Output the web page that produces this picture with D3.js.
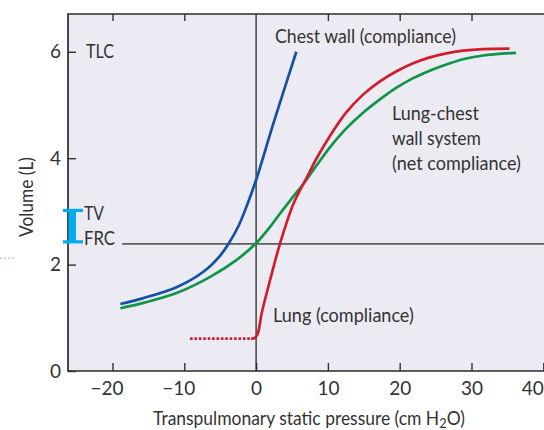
<!DOCTYPE html>
<html>
<head>
<meta charset="utf-8">
<script src="https://cdn.jsdelivr.net/npm/d3@7"></script>
<style>
  html, body { margin: 0; padding: 0; background: #fff; }
  svg { display: block; }
</style>
</head>
<body>
<svg id="chart" width="544" height="430"></svg>
<script>
// Static pressure–volume curves of the lung, chest wall and combined system
const pressureTicks = [-20, -10, 0, 10, 20, 30, 40];
const volumeTicks = [0, 2, 4, 6];

// Chest wall (compliance)
const chestWallPressure = [-18.9, -15.7, -11.0, -7.3, -5.0, -3.8, -2.4, -1.2, 0, 2.4, 5.6];
const chestWallVolume   = [1.26, 1.37, 1.58, 1.87, 2.17, 2.40, 2.74, 3.14, 3.59, 4.65, 6.00];

// Lung (compliance)
const lungPressure = [-0.7, -0.2, 0.2, 0.8, 1.95, 3.34, 5.19, 7.0, 8.36, 10.2, 12.5, 14.86, 17.2, 19.5, 21.8, 24.1, 26.5, 28.8, 31.6, 35.3];
const lungVolume   = [0.61, 0.62, 0.69, 1.10, 1.71, 2.40, 3.14, 3.62, 3.98, 4.40, 4.85, 5.19, 5.44, 5.63, 5.78, 5.89, 5.97, 6.02, 6.05, 6.06];
// Lung below zero transpulmonary pressure (dotted)
const lungCollapsedPressure = [-9.2, -0.7];
const lungCollapsedVolume   = [0.61, 0.61];

// Lung–chest wall system (net compliance)
const systemPressure = [-18.9, -15.7, -11.0, -6.4, -2.7, 0, 1.95, 3.34, 5.0, 6.6, 8.3, 10.2, 12.5, 14.86, 17.2, 19.5, 21.8, 24.1, 26.5, 28.8, 31.6, 36.2];
const systemVolume   = [1.18, 1.28, 1.47, 1.77, 2.09, 2.40, 2.71, 2.96, 3.25, 3.52, 3.84, 4.19, 4.55, 4.85, 5.10, 5.32, 5.50, 5.64, 5.76, 5.86, 5.93, 5.98];

// Reference volumes
const frcVolume = 2.39;
const tvTopVolume = 3.02;
const tlcVolume = 6;

const svg = d3.select('#chart');
const plotLeft = 68, plotRight = 544, plotTop = 14, plotBottom = 371;
const x = d3.scaleLinear().domain([-26.2, 40.1]).range([plotLeft, plotRight]);
const y = d3.scaleLinear().domain([0, 6.71]).range([plotBottom, plotTop]);

const ink = '#333333';
const font = 'Lato, "Open Sans", sans-serif';
const zip = (xs, ys) => xs.map((v, i) => [v, ys[i]]);

// plot panel
svg.append('rect')
  .attr('x', plotLeft).attr('y', plotTop)
  .attr('width', plotRight - plotLeft + 4).attr('height', plotBottom - plotTop)
  .attr('fill', '#ecebf4');

// text helper: draws a label and squeezes it to the given width
function label(x0, y0, str, width, opts = {}) {
  const g = svg.append('g').attr('transform', `translate(${x0},${y0})${opts.rotate ? ' rotate(' + opts.rotate + ')' : ''}`);
  const t = g.append('text')
    .attr('font-family', font)
    .attr('font-size', opts.size || 19)
    .attr('fill', ink)
    .attr('text-anchor', opts.anchor || 'start')
    .text(str);
  if (width) {
    const w = t.node().getComputedTextLength();
    t.attr('transform', `scale(${width / w},1)`);
  }
  return t;
}

// bottom axis
const xAxis = svg.append('g')
  .attr('transform', `translate(0,${plotBottom})`)
  .call(d3.axisBottom(x).tickValues(pressureTicks).tickSize(-8).tickPadding(11).tickFormat(d3.format('d')));
xAxis.select('.domain').remove();
xAxis.selectAll('line').attr('stroke', ink).attr('stroke-width', 1.4);
xAxis.selectAll('text')
  .attr('font-family', font).attr('font-size', 19).attr('fill', ink)
  .attr('dx', d => d < 0 ? -6 : (d === 40 ? -11 : 0));

// top ticks
const xTop = svg.append('g')
  .attr('transform', `translate(0,${plotTop})`)
  .call(d3.axisTop(x).tickValues(pressureTicks.filter(d => d !== 0 && d !== 40)).tickSize(-7).tickFormat(''));
xTop.select('.domain').remove();
xTop.selectAll('line').attr('stroke', ink).attr('stroke-width', 1.4);

// left axis
const yAxis = svg.append('g')
  .attr('transform', `translate(${plotLeft},0)`)
  .call(d3.axisLeft(y).tickValues(volumeTicks).tickSize(-8).tickPadding(7).tickFormat(d3.format('d')));
yAxis.select('.domain').remove();
yAxis.selectAll('line').attr('stroke', ink).attr('stroke-width', 1.4);
yAxis.selectAll('text').attr('font-family', font).attr('font-size', 19).attr('fill', ink);

// frame
svg.append('path')
  .attr('d', `M${plotRight + 2},${plotTop}H${plotLeft}V${plotBottom}H${plotRight + 2}`)
  .attr('fill', 'none').attr('stroke', '#2a2a2a').attr('stroke-width', 1.7);

// zero pressure line
svg.append('line')
  .attr('x1', x(0)).attr('x2', x(0)).attr('y1', plotTop).attr('y2', plotBottom)
  .attr('stroke', '#2a2a2a').attr('stroke-width', 1.3);

// reference volume labels
label(86, 58, 'TLC', 28);
label(84, 219.5, 'TV', 20);
label(84, 245, 'FRC', 31);

// FRC line
svg.append('line')
  .attr('x1', 122).attr('x2', plotRight)
  .attr('y1', y(frcVolume)).attr('y2', y(frcVolume))
  .attr('stroke', '#5e5e5e').attr('stroke-width', 1.8);

// tidal volume bracket
const bracket = svg.append('g').attr('fill', '#00aeef');
const bTop = y(tvTopVolume), bBot = y(frcVolume) - 2;
bracket.append('rect').attr('x', plotLeft - 5).attr('y', bTop - 1.5).attr('width', 20).attr('height', 3.2);
bracket.append('rect').attr('x', plotLeft - 5).attr('y', bBot - 1.6).attr('width', 20).attr('height', 3.2);
bracket.append('rect').attr('x', plotLeft + 0.5).attr('y', bTop).attr('width', 7.5).attr('height', bBot - bTop);

// small dotted mark outside the panel
svg.append('line')
  .attr('x1', 0).attr('x2', 14).attr('y1', y(2.12)).attr('y2', y(2.12))
  .attr('stroke', '#a9c2d6').attr('stroke-width', 1.4).attr('stroke-dasharray', '1.5,2.6');

// curves
const line = d3.line().x(d => x(d[0])).y(d => y(d[1])).curve(d3.curveCatmullRom.alpha(0.5));
const curveStyle = sel => sel.attr('fill', 'none').attr('stroke-width', 2.7).attr('stroke-linecap', 'butt');

svg.append('path').datum(zip(lungCollapsedPressure, lungCollapsedVolume))
  .attr('d', line).call(curveStyle).attr('stroke', '#cf1f2f').attr('stroke-dasharray', '2.6,1.8');
svg.append('path').datum(zip(systemPressure, systemVolume))
  .attr('d', line).call(curveStyle).attr('stroke', '#0f9448');
svg.append('path').datum(zip(lungPressure, lungVolume))
  .attr('d', line).call(curveStyle).attr('stroke', '#cf1f2f');
svg.append('path').datum(zip(chestWallPressure, chestWallVolume))
  .attr('d', line).call(curveStyle).attr('stroke', '#1450a3');

// curve labels
label(275, 43, 'Chest wall (compliance)', 181);
label(392, 120, 'Lung-chest', 87);
label(392, 145, 'wall system', 89);
label(392, 170, '(net compliance)', 129);
label(273, 322, 'Lung (compliance)', 141);

// axis titles
label(33, 197, 'Volume (L)', 80, { anchor: 'middle', rotate: -90 });

const xt = svg.append('g').attr('transform', 'translate(309,425)');
const xTitle = xt.append('text')
  .attr('font-family', font).attr('font-size', 19).attr('fill', ink).attr('text-anchor', 'middle');
xTitle.append('tspan').text('Transpulmonary static pressure (cm H');
xTitle.append('tspan').attr('font-size', 14).attr('dy', 2.5).text('2');
xTitle.append('tspan').attr('dy', -2.5).text('O)');
const xw = xTitle.node().getComputedTextLength();
xTitle.attr('transform', `scale(${312 / xw},1)`);
</script>
</body>
</html>
